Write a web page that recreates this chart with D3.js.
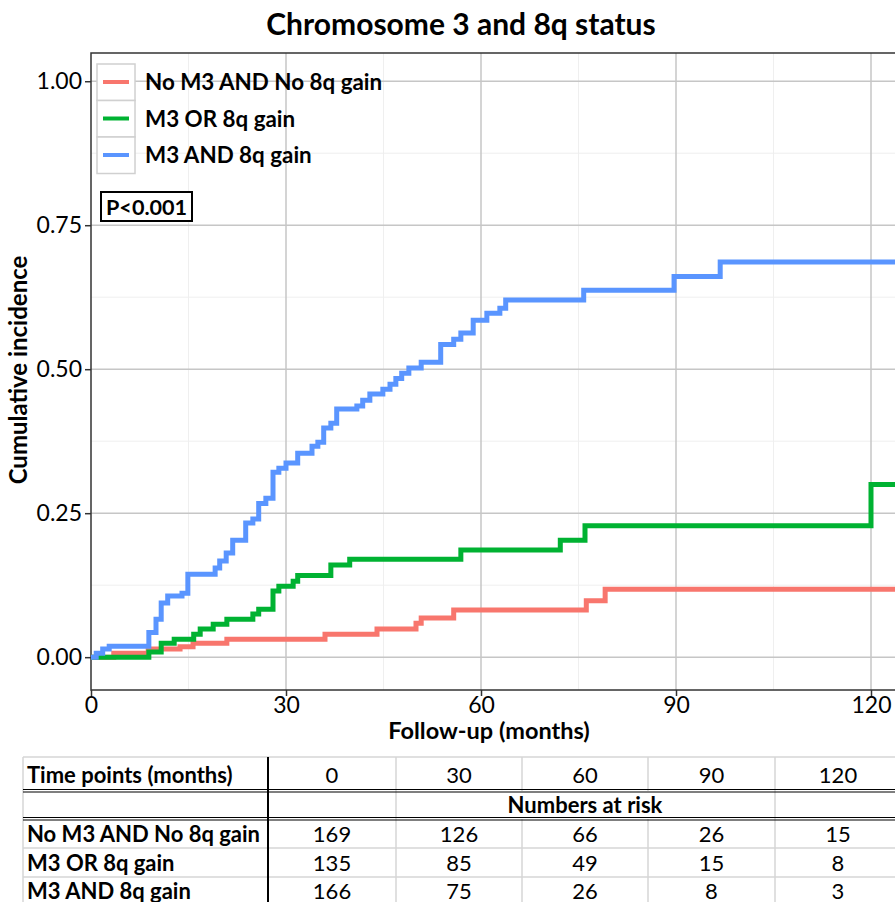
<!DOCTYPE html>
<html>
<head>
<meta charset="utf-8">
<script src="https://cdn.jsdelivr.net/npm/d3@7"></script>
<style>
  body { margin: 0; background: #fff; }
  text { font-family: Lato, "Open Sans", sans-serif; fill: #000; }
</style>
</head>
<body>
<div id="viz"></div>
<script>
// group names and colours
var groups = ["No M3 AND No 8q gain", "M3 OR 8q gain", "M3 AND 8q gain"];
var colors = ["#F8766D", "#00B232", "#5A95FF"];

// step curves: time (months) and cumulative incidence
var timesRed = [0, 3.5, 8.8, 13.7, 15.7, 20.9, 36.0, 44.0, 50.0, 50.8, 55.8, 76.2, 79.1, 124];
var incRed   = [0, 0.007, 0.014, 0.018, 0.024, 0.031, 0.040, 0.049, 0.059, 0.068, 0.082, 0.098, 0.118, 0.118];

var timesGreen = [0, 8.9, 10.8, 12.8, 15.8, 16.8, 18.8, 20.9, 24.9, 25.8, 28.0, 28.9, 31.1, 31.8, 36.9, 39.8, 56.9, 72.2, 76.0, 120.0, 124];
var incGreen   = [0, 0.009, 0.024, 0.031, 0.040, 0.049, 0.057, 0.066, 0.075, 0.083, 0.115, 0.123, 0.132, 0.142, 0.160, 0.170, 0.186, 0.203, 0.228, 0.300, 0.300];

var timesBlue = [0, 0.8, 1.8, 2.8, 8.9, 10.0, 10.8, 11.8, 14.0, 14.9, 19.1, 19.8, 20.8, 21.8, 23.8, 24.9, 25.8, 26.9, 28.0, 28.9, 30.0,
                 31.8, 34.0, 34.9, 35.8, 36.9, 37.8, 40.9, 41.8, 42.9, 44.9, 46.0, 46.9, 47.8, 48.9, 50.8, 53.8, 55.8, 56.9, 58.8,
                 60.9, 62.9, 63.8, 75.8, 89.7, 96.8, 124];
var incBlue   = [0, 0.007, 0.014, 0.019, 0.043, 0.066, 0.094, 0.106, 0.111, 0.144, 0.155, 0.167, 0.181, 0.203, 0.233, 0.240, 0.267, 0.276, 0.321, 0.328, 0.337,
                 0.354, 0.366, 0.373, 0.398, 0.406, 0.431, 0.436, 0.446, 0.457, 0.465, 0.474, 0.484, 0.493, 0.502, 0.512, 0.543, 0.552, 0.563, 0.585,
                 0.597, 0.606, 0.620, 0.637, 0.661, 0.686, 0.686];

var xTicks = [0, 30, 60, 90, 120];
var yTicks = [0, 0.25, 0.5, 0.75, 1];

// numbers at risk table
var tableTimes = ["0", "30", "60", "90", "120"];
var atRiskRed   = [169, 126, 66, 26, 15];
var atRiskGreen = [135, 85, 49, 15, 8];
var atRiskBlue  = [166, 75, 26, 8, 3];

var width_svg = 895, height_svg = 902;
var svg = d3.select("#viz").append("svg")
            .attr("width", width_svg)
            .attr("height", height_svg);

var x = d3.scaleLinear().domain([0, 124]).range([91, 897]);
var y = d3.scaleLinear().domain([-0.057, 1.049]).range([690, 53]);

// title
svg.append("text")
    .attr("x", 461).attr("y", 35)
    .attr("text-anchor", "middle")
    .style("font-size", "30px").style("font-weight", "bold")
    .text("Chromosome 3 and 8q status");

// gridlines
var grid = svg.append("g");
grid.selectAll(".minx").data([15, 45, 75, 105]).join("line")
    .attr("x1", d => x(d)).attr("x2", d => x(d)).attr("y1", 53).attr("y2", 690)
    .attr("stroke", "#efefef").attr("stroke-width", 1);
grid.selectAll(".miny").data([0.125, 0.375, 0.625, 0.875]).join("line")
    .attr("x1", 91).attr("x2", 897).attr("y1", d => y(d)).attr("y2", d => y(d))
    .attr("stroke", "#efefef").attr("stroke-width", 1);
grid.selectAll(".majx").data(xTicks.slice(1)).join("line")
    .attr("x1", d => x(d)).attr("x2", d => x(d)).attr("y1", 53).attr("y2", 690)
    .attr("stroke", "#c6c6c6").attr("stroke-width", 1.5);
grid.selectAll(".majy").data(yTicks).join("line")
    .attr("x1", 91).attr("x2", 897).attr("y1", d => y(d)).attr("y2", d => y(d))
    .attr("stroke", "#c6c6c6").attr("stroke-width", 1.5);

// panel border
svg.append("rect")
    .attr("x", 91).attr("y", 53).attr("width", 806).attr("height", 637)
    .attr("fill", "none").attr("stroke", "#333").attr("stroke-width", 1.5);

// curves
var line = d3.line().x(d => x(d[0])).y(d => y(d[1])).curve(d3.curveStepAfter);
var curves = [d3.zip(timesRed, incRed), d3.zip(timesGreen, incGreen), d3.zip(timesBlue, incBlue)];
svg.append("g").selectAll("path").data(curves).join("path")
    .attr("d", line)
    .attr("fill", "none")
    .attr("stroke", (d, i) => colors[i])
    .attr("stroke-width", 5);

// axes
var yAxis = svg.append("g")
    .attr("transform", "translate(91,0)")
    .call(d3.axisLeft(y).tickValues(yTicks).tickFormat(d3.format(".2f")).tickSize(6).tickPadding(3));
var xAxis = svg.append("g")
    .attr("transform", "translate(0,690)")
    .call(d3.axisBottom(x).tickValues(xTicks).tickSize(6).tickPadding(1));
[yAxis, xAxis].forEach(function (a) {
    a.select(".domain").remove();
    a.selectAll(".tick line").attr("stroke", "#333").attr("stroke-width", 1.5);
    a.selectAll(".tick text").style("font-size", "23px").style("font-family", "Lato, sans-serif").attr("fill", "#222");
});

svg.append("text")
    .attr("x", 489).attr("y", 739)
    .attr("text-anchor", "middle")
    .style("font-size", "23.5px").style("font-weight", "bold")
    .text("Follow-up (months)");
svg.append("text")
    .attr("transform", "translate(27,370) rotate(-90)")
    .attr("text-anchor", "middle")
    .style("font-size", "24px").style("font-weight", "bold")
    .text("Cumulative incidence");

// legend
var legend = svg.append("g").selectAll("g").data(groups).join("g")
    .attr("transform", (d, i) => "translate(97," + (64 + i * 36.5) + ")");
legend.append("rect")
    .attr("width", 38).attr("height", 36.5)
    .attr("fill", "#fff").attr("stroke", "#d0d0d0").attr("stroke-width", 1.5);
legend.append("line")
    .attr("x1", 6).attr("x2", 32).attr("y1", 18).attr("y2", 18)
    .attr("stroke", (d, i) => colors[i]).attr("stroke-width", 4);
legend.append("text")
    .attr("x", 48).attr("y", 26)
    .style("font-size", "22.4px").style("font-weight", "bold")
    .text(d => d);

// p value box
svg.append("rect")
    .attr("x", 101).attr("y", 192).attr("width", 91).attr("height", 29)
    .attr("fill", "#fff").attr("stroke", "#000").attr("stroke-width", 2);
svg.append("text")
    .attr("x", 106).attr("y", 215)
    .style("font-size", "21.6px").style("font-weight", "bold")
    .text("P<0.001");

// numbers at risk table
var colEdges = [23, 268, 396, 522, 648, 775, 901];
var tbl = svg.append("g");

// light cell grid
tbl.append("line").attr("x1", 23).attr("x2", 901).attr("y1", 757).attr("y2", 757).attr("stroke", "#d6d6d6").attr("stroke-width", 1.5);
tbl.append("line").attr("x1", 23).attr("x2", 23).attr("y1", 757).attr("y2", 906).attr("stroke", "#d6d6d6").attr("stroke-width", 1.5);
tbl.selectAll(".rowline").data([848, 877]).join("line")
    .attr("x1", 23).attr("x2", 901).attr("y1", d => d).attr("y2", d => d)
    .attr("stroke", "#d6d6d6").attr("stroke-width", 1.5);
colEdges.slice(2).forEach(function (cx) {
    var merged = (cx === 522 || cx === 648);
    if (merged) {
        tbl.append("line").attr("x1", cx).attr("x2", cx).attr("y1", 757).attr("y2", 791).attr("stroke", "#d6d6d6").attr("stroke-width", 1.5);
        tbl.append("line").attr("x1", cx).attr("x2", cx).attr("y1", 819).attr("y2", 906).attr("stroke", "#d6d6d6").attr("stroke-width", 1.5);
    } else {
        tbl.append("line").attr("x1", cx).attr("x2", cx).attr("y1", 757).attr("y2", 906).attr("stroke", "#d6d6d6").attr("stroke-width", 1.5);
    }
});
// heavy lines
[791, 819].forEach(function (ry) {
    tbl.append("line").attr("x1", 23).attr("x2", 901).attr("y1", ry - 1.5).attr("y2", ry - 1.5).attr("stroke", "#000").attr("stroke-width", 1.2);
    tbl.append("line").attr("x1", 23).attr("x2", 901).attr("y1", ry + 1).attr("y2", ry + 1).attr("stroke", "#000").attr("stroke-width", 1.2);
});
tbl.append("line").attr("x1", 268).attr("x2", 268).attr("y1", 757).attr("y2", 906).attr("stroke", "#000").attr("stroke-width", 2);

var colCenter = d3.range(5).map(i => (colEdges[i + 1] + colEdges[i + 2]) / 2);
function tableRow(label, values, ry) {
    tbl.append("text").attr("x", 27).attr("y", ry)
        .style("font-size", "22px").style("font-weight", "bold").text(label);
    tbl.selectAll(null).data(values).enter().append("text")
        .attr("x", (d, i) => colCenter[i]).attr("y", ry)
        .attr("text-anchor", "middle")
        .style("font-size", "22px").text(d => d);
}
tableRow("Time points (months)", tableTimes, 783);
tbl.append("text").attr("x", 585).attr("y", 813).attr("text-anchor", "middle")
    .style("font-size", "22px").style("font-weight", "bold").text("Numbers at risk");
tableRow(groups[0], atRiskRed, 842);
tableRow(groups[1], atRiskGreen, 871);
tableRow(groups[2], atRiskBlue, 899);
</script>
</body>
</html>
